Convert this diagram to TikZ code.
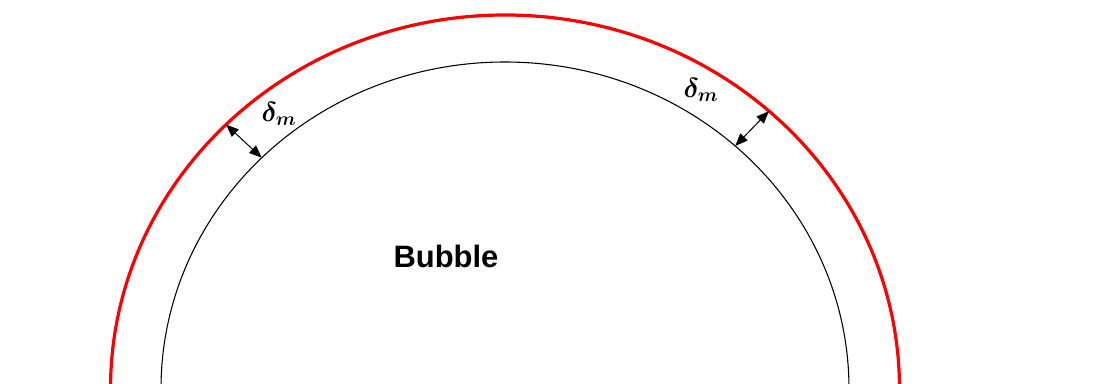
\documentclass[tikz,border=0pt]{standalone}
\usepackage{amsmath,amssymb}
\usepackage{bm}
\usepackage{fontspec}
\setmainfont{Liberation Sans}
\usetikzlibrary{arrows.meta,calc}

\tikzset{
  wall/.style={black, line width=0.8pt},
  film/.style={red, line width=2.4pt},
  gap/.style={{Triangle[length=9.5pt,width=7.5pt]}-{Triangle[length=9.5pt,width=7.5pt]}, line width=0.75pt},
  thick label/.style={font=\fontsize{21.5}{26}\selectfont, inner sep=0pt},
}

\begin{document}
\begin{tikzpicture}[x=0.75pt,y=0.75pt]
    \useasboundingbox (0,0) rectangle (1118,383);
    \clip (0,0) rectangle (1118,383);
    \coordinate (c) at (505,-6);

    % Bubble surface and film edge
    \draw[wall] (c) ellipse [x radius=344, y radius=327];
    \draw[film] (c) ellipse [x radius=394.5, y radius=374];

    % Film thickness markers
    \coordinate (inL)  at ($(c)+(135:344 and 327)$);
    \coordinate (outL) at ($(c)+(135:394.5 and 374)$);
    \coordinate (inR)  at ($(c)+(48:344 and 327)$);
    \coordinate (outR) at ($(c)+(48:394.5 and 374)$);
    \draw[gap] (outL) -- (inL);
    \draw[gap] (outR) -- (inR);

    \node[thick label] (dL) at (279,269) {$\bm{\delta_m}$};
    \node[thick label] (dR) at (701,293) {$\bm{\delta_m}$};

    % Label
    \node[font=\fontsize{23.2}{28}\selectfont\bfseries, inner sep=0pt] (bub) at (446,127) {Bubble};
\end{tikzpicture}
\end{document}
